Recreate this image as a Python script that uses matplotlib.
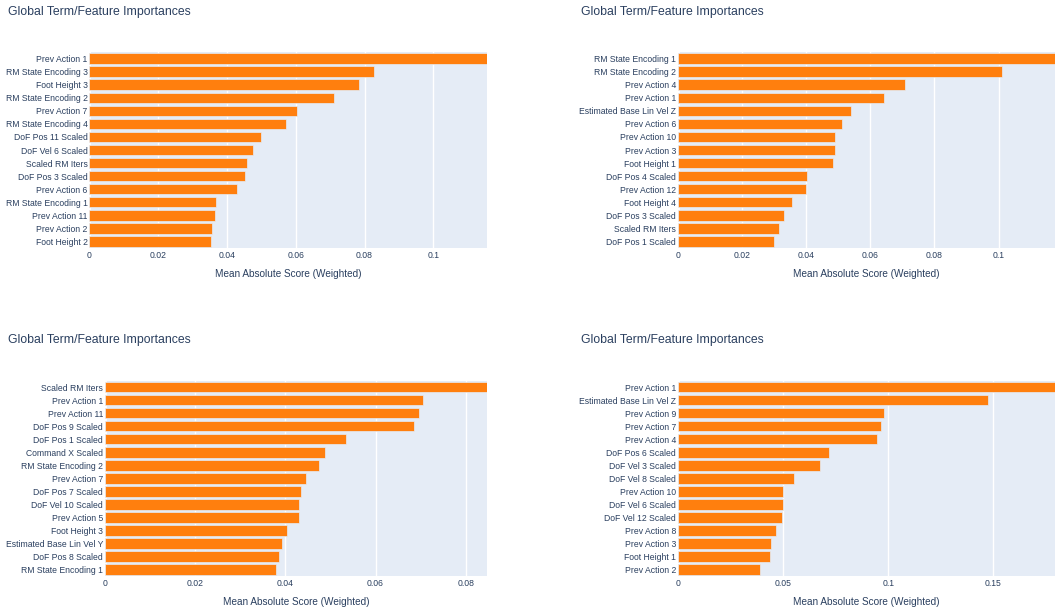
import numpy as np
import matplotlib
matplotlib.use("Agg")
import matplotlib.pyplot as plt
from matplotlib.ticker import FuncFormatter

# Datos de cada panel (de mayor a menor importancia)
nombres_1 = ["Prev Action 1", "RM State Encoding 3", "Foot Height 3", "RM State Encoding 2",
             "Prev Action 7", "RM State Encoding 4", "DoF Pos 11 Scaled", "DoF Vel 6 Scaled",
             "Scaled RM Iters", "DoF Pos 3 Scaled", "Prev Action 6", "RM State Encoding 1",
             "Prev Action 11", "Prev Action 2", "Foot Height 2"]
valores_1 = [0.1156, 0.0828, 0.0785, 0.0712, 0.0604, 0.0572, 0.0498, 0.0477,
             0.0459, 0.0452, 0.0429, 0.0368, 0.0365, 0.0356, 0.0355]

nombres_2 = ["RM State Encoding 1", "RM State Encoding 2", "Prev Action 4", "Prev Action 1",
             "Estimated Base Lin Vel Z", "Prev Action 6", "Prev Action 10", "Prev Action 3",
             "Foot Height 1", "DoF Pos 4 Scaled", "Prev Action 12", "Foot Height 4",
             "DoF Pos 3 Scaled", "Scaled RM Iters", "DoF Pos 1 Scaled"]
valores_2 = [0.1176, 0.1011, 0.0709, 0.0642, 0.0541, 0.0513, 0.0490, 0.0490,
             0.0484, 0.0402, 0.0400, 0.0357, 0.0331, 0.0316, 0.0300]

nombres_3 = ["Scaled RM Iters", "Prev Action 1", "Prev Action 11", "DoF Pos 9 Scaled",
             "DoF Pos 1 Scaled", "Command X Scaled", "RM State Encoding 2", "Prev Action 7",
             "DoF Pos 7 Scaled", "DoF Vel 10 Scaled", "Prev Action 5", "Foot Height 3",
             "Estimated Base Lin Vel Y", "DoF Pos 8 Scaled", "RM State Encoding 1"]
valores_3 = [0.0847, 0.0706, 0.0696, 0.0685, 0.0535, 0.0489, 0.0474, 0.0446,
             0.0436, 0.0431, 0.0430, 0.0405, 0.0392, 0.0387, 0.0379]

nombres_4 = ["Prev Action 1", "Estimated Base Lin Vel Z", "Prev Action 9", "Prev Action 7",
             "Prev Action 4", "DoF Pos 6 Scaled", "DoF Vel 3 Scaled", "DoF Vel 8 Scaled",
             "Prev Action 10", "DoF Vel 6 Scaled", "DoF Vel 12 Scaled", "Prev Action 8",
             "Prev Action 3", "Foot Height 1", "Prev Action 2"]
valores_4 = [0.1793, 0.1475, 0.0981, 0.0965, 0.0947, 0.0721, 0.0675, 0.0551,
             0.0501, 0.0499, 0.0497, 0.0467, 0.0444, 0.0439, 0.0391]

ticks_1 = [0, 0.02, 0.04, 0.06, 0.08, 0.1]
ticks_2 = [0, 0.02, 0.04, 0.06, 0.08, 0.1]
ticks_3 = [0, 0.02, 0.04, 0.06, 0.08]
ticks_4 = [0, 0.05, 0.1, 0.15]

titulo = "Global Term/Feature Importances"
etiqueta_x = "Mean Absolute Score (Weighted)"

# Estilo tipo plotly
TEXTO = "#2a3f5f"
FONDO = "#E5ECF6"
NARANJA = "#FF7F0E"
plt.rcParams["font.family"] = ["Liberation Sans", "DejaVu Sans"]

W, H = 1055, 608
fig = plt.figure(figsize=(W / 100, H / 100), dpi=100)


def caja(x0, x1, y0, y1):
    # convierte pixeles a coordenadas de figura
    return [x0 / W, 1 - y1 / H, (x1 - x0) / W, (y1 - y0) / H]


def panel(rect, nombres, valores, ticks, tx, ty):
    ax = fig.add_axes(rect)
    ax.set_facecolor(FONDO)
    y = np.arange(len(nombres))
    ax.barh(y, valores, height=0.8, color=NARANJA, edgecolor=FONDO, linewidth=0.5, zorder=3)
    ax.set_ylim(len(nombres) - 0.5, -0.5)
    ax.set_xlim(0, max(valores))
    ax.set_yticks(y)
    ax.set_yticklabels(nombres)
    ax.set_xticks(ticks)
    ax.xaxis.set_major_formatter(FuncFormatter(lambda v, p: f"{round(v, 4):g}"))
    ax.grid(axis="x", color="white", linewidth=1, zorder=1)
    ax.axvline(0, color="white", linewidth=2, zorder=2)
    for s in ax.spines.values():
        s.set_visible(False)
    ax.tick_params(axis="both", length=0, labelsize=6.2, labelcolor=TEXTO)
    ax.tick_params(axis="y", pad=1.2)
    ax.tick_params(axis="x", pad=2)
    ax.set_xlabel(etiqueta_x, fontsize=7.2, color=TEXTO)
    ax.xaxis.set_label_coords(0.5, -0.105)
    fig.text(tx / W, 1 - ty / H, titulo, fontsize=8.8, color=TEXTO, va="center", ha="left")
    return ax


panel(caja(89.3, 487, 52, 248), nombres_1, valores_1, ticks_1, 8, 11.5)
panel(caja(677.7, 1055, 52, 248), nombres_2, valores_2, ticks_2, 581, 11.5)
panel(caja(104.7, 487, 380.7, 576), nombres_3, valores_3, ticks_3, 8, 340.5)
panel(caja(677.7, 1055, 380.7, 576), nombres_4, valores_4, ticks_4, 581, 340.5)

fig.savefig("out.png", dpi=100, facecolor="white")
